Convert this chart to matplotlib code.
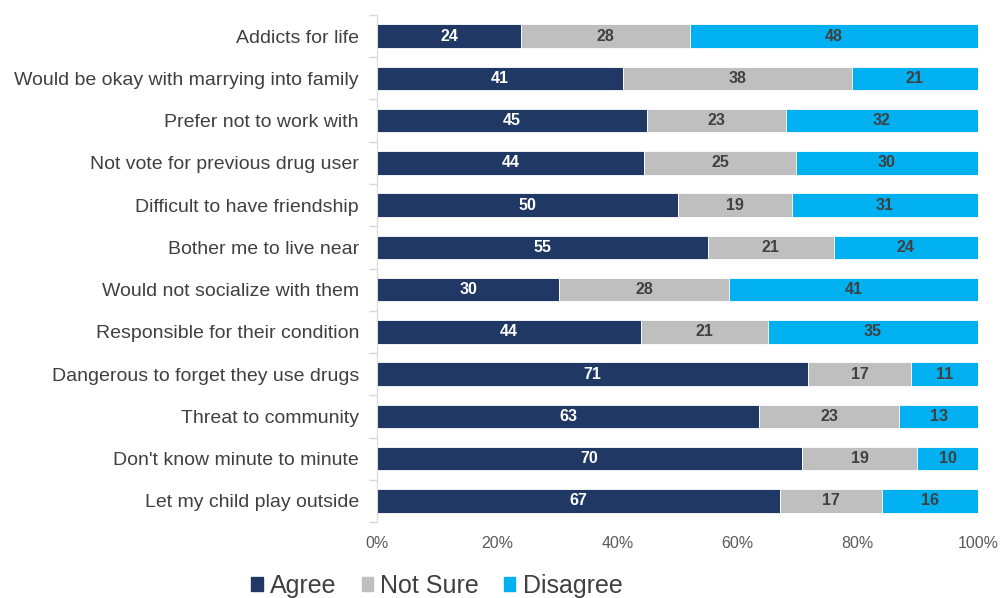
import numpy as np
from matplotlib import pyplot as plt
from matplotlib.patches import Patch

categories = [
    "Addicts for life",
    "Would be okay with marrying into family",
    "Prefer not to work with",
    "Not vote for previous drug user",
    "Difficult to have friendship",
    "Bother me to live near",
    "Would not socialize with them",
    "Responsible for their condition",
    "Dangerous to forget they use drugs",
    "Threat to community",
    "Don't know minute to minute",
    "Let my child play outside",
]
agree = [24, 41, 45, 44, 50, 55, 30, 44, 71, 63, 70, 67]
not_sure = [28, 38, 23, 25, 19, 21, 28, 21, 17, 23, 19, 17]
disagree = [48, 21, 32, 30, 31, 24, 41, 35, 11, 13, 10, 16]

series_names = ["Agree", "Not Sure", "Disagree"]
colors = ["#203864", "#BFBFBF", "#00B0F0"]
text_colors = ["white", "#404040", "#404040"]

plt.rcParams['font.family'] = ['Liberation Sans', 'DejaVu Sans']

fig = plt.figure(figsize=(10, 5.98), dpi=100)
ax = fig.add_axes([0.377, 0.127, 0.601, 0.848])

data = np.array([agree, not_sure, disagree], dtype=float)
totals = data.sum(axis=0)
pct = data / totals * 100  # rows are drawn as 100% stacks
y = np.arange(len(categories))

left = np.zeros(len(categories))
for k in range(3):
    ax.barh(y, pct[k], left=left, height=0.56, color=colors[k],
            edgecolor='white', linewidth=0.6)
    for i in range(len(categories)):
        ax.text(left[i] + pct[k][i] / 2, y[i], str(int(data[k][i])),
                ha='center', va='center', fontsize=11.5, fontweight='bold',
                color=text_colors[k])
    left += pct[k]

ax.set_ylim(len(categories) - 0.5, -0.5)
ax.set_xlim(0, 100)
ax.set_yticks(y)
ax.set_yticklabels(categories, fontsize=14, color='#404040')
ax.set_yticks(np.arange(len(categories) + 1) - 0.5, minor=True)
ax.tick_params(axis='y', which='major', length=0, pad=13)
ax.tick_params(axis='y', which='minor', length=6, color='#D9D9D9', width=1)

ax.set_xticks([0, 20, 40, 60, 80, 100])
ax.set_xticklabels(["0%", "20%", "40%", "60%", "80%", "100%"],
                   fontsize=11.5, color='#595959')
ax.tick_params(axis='x', length=0, pad=10)

for s in ['top', 'right', 'bottom']:
    ax.spines[s].set_visible(False)
ax.spines['left'].set_color('#D9D9D9')

handles = [Patch(color=c) for c in colors]
fig.legend(handles, series_names, loc='center', bbox_to_anchor=(0.437, 0.02),
           ncol=3, frameon=False, fontsize=18, handlelength=0.45,
           handleheight=0.45, handletextpad=0.3, columnspacing=1.0,
           labelcolor='#404040')

fig.savefig('out.png', dpi=100)
